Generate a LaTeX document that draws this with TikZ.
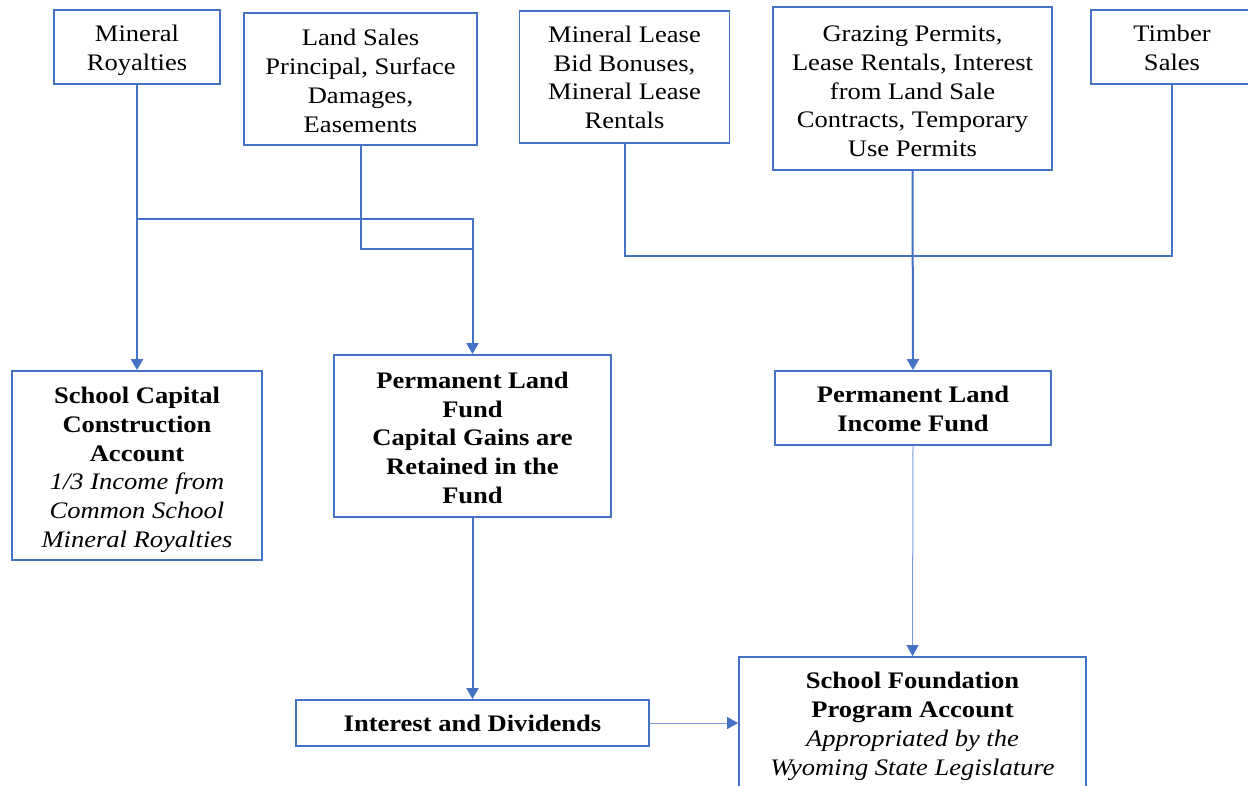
\documentclass[tikz,border=0pt]{standalone}
\usepackage{fontspec}
\setmainfont{Liberation Serif}[FakeStretch=1.12]
\usetikzlibrary{arrows.meta}
\definecolor{lblue}{HTML}{4472C4}
\definecolor{pblue}{RGB}{120,155,215}
\tikzset{
  frame/.style={draw=lblue, line width=1.8pt, inner sep=0pt, fill=white},
  txt/.style={inner sep=0pt, align=center,
    font={\fontsize{23.7}{28.7}\selectfont},
    execute at end node={\rule[-6.5pt]{0pt}{6.5pt}}},
  conn/.style={draw=lblue, line width=2pt},
  arr/.style={conn, -{Triangle[length=11pt,width=12pt]}},
  thinarr/.style={draw=pblue, line width=1pt, -{Triangle[length=11pt,width=12pt,color=lblue]}}
}
\begin{document}
\begin{tikzpicture}[x=1pt,y=-1pt]
\useasboundingbox (0,0) rectangle (1248,785);
% top row
\node[frame, minimum width=166pt, minimum height=74pt] (mr) at (137,47) {};
\node[txt] (mrt) at ([yshift=-4pt]mr.center) {Mineral\\Royalties};
\node[frame, minimum width=233pt, minimum height=132pt] (ls) at (360.5,79) {};
\node[txt] (lst) at ([yshift=-5pt]ls.center) {Land Sales\\Principal, Surface\\Damages,\\Easements};
\node[frame, minimum width=210pt, minimum height=132pt] (ml) at (624.5,77) {};
\node[txt] (mlt) at ([yshift=-3.5pt]ml.center) {Mineral Lease\\Bid Bonuses,\\Mineral Lease\\Rentals};
\node[frame, minimum width=279pt, minimum height=163pt] (gz) at (912.5,88.5) {};
\node[txt] (gzt) at ([yshift=-6pt]gz.center) {Grazing Permits,\\Lease Rentals, Interest\\from Land Sale\\Contracts, Temporary\\Use Permits};
\node[frame, minimum width=162pt, minimum height=74pt] (ts) at (1172,47) {};
\node[txt] (tst) at ([yshift=-4pt]ts.center) {Timber\\Sales};
% middle row
\node[frame, minimum width=250pt, minimum height=189pt] (scca) at (137,465.5) {};
\node[txt] (sccat) at ([yshift=-5pt]scca.center) {\textbf{School Capital}\\\textbf{Construction}\\\textbf{Account}\\\textit{1/3 Income from}\\\textit{Common School}\\\textit{Mineral Royalties}};
\node[frame, minimum width=277pt, minimum height=162pt] (plf) at (472.5,436) {};
\node[txt] (plft) at ([yshift=-5pt]plf.center) {\textbf{Permanent Land}\\\textbf{Fund}\\\textbf{Capital Gains are}\\\textbf{Retained in the}\\\textbf{Fund}};
\node[frame, minimum width=276pt, minimum height=74pt] (plif) at (913,408) {};
\node[txt] (plift) at ([yshift=-4pt]plif.center) {\textbf{Permanent Land}\\\textbf{Income Fund}};
% bottom row
\node[frame, minimum width=353pt, minimum height=46pt] (id) at (472.5,723) {};
\node[txt] (idt) at ([yshift=-4pt]id.center) {\textbf{Interest and Dividends}};
\node[frame, minimum width=347pt, minimum height=132pt] (sfpa) at (912.5,723) {};
\node[txt] (sfpat) at ([yshift=-4pt]sfpa.center) {\textbf{School Foundation}\\\textbf{Program Account}\\\textit{Appropriated by the}\\\textit{Wyoming State Legislature}};
% junction coordinates
\coordinate (j1) at (137,219);
\coordinate (j2) at (472,249);
\coordinate (bus) at (913,256);
% connectors
\draw[arr] (mr.south) -- (scca.north);
\draw[arr] (j1) -| (plf.north);
\draw[conn] (ls.south) |- (j2);
\draw[conn] (ml.south) |- (bus) -| (ts.south);
\draw[arr] (gz.south) -- (plif.north);
\draw[arr] (plf.south) -- (id.north);
\draw[thinarr] (plif.south) -- (sfpa.north);
\draw[thinarr] (id.east) -- (sfpa.west);
\end{tikzpicture}
\end{document}
